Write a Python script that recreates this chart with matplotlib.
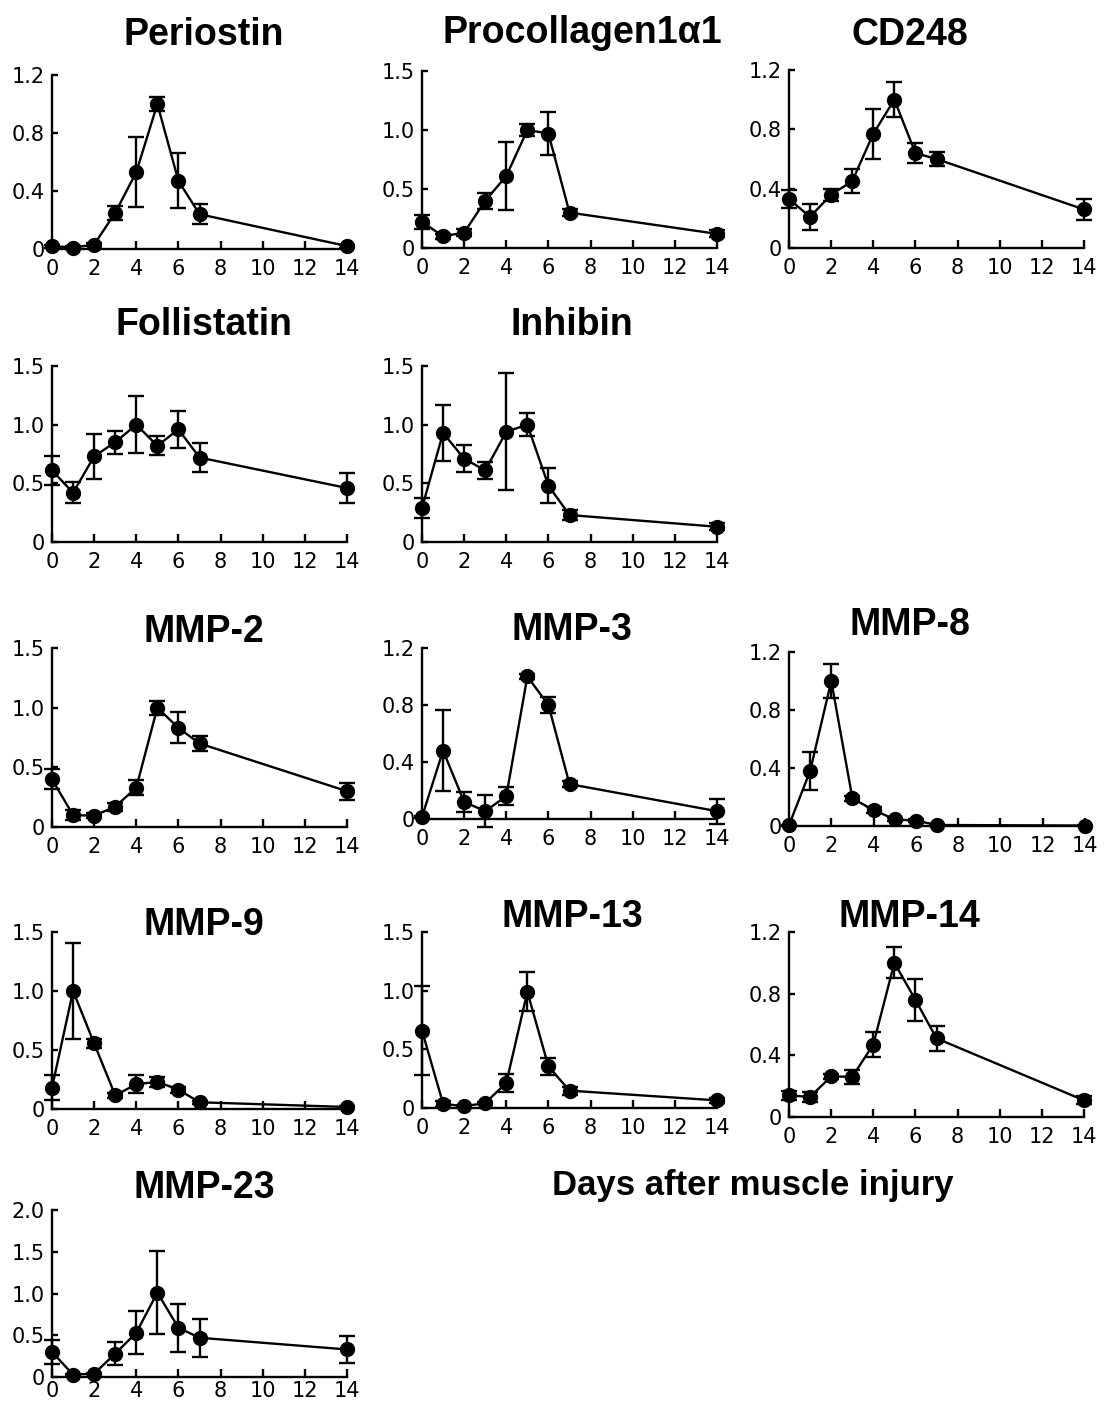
import matplotlib
matplotlib.use("Agg")
import matplotlib.pyplot as plt

W, H = 1104, 1401

days = [0, 1, 2, 3, 4, 5, 6, 7, 14]

names = ["Periostin", "Procollagen1\u03b11", "CD248", "Follistatin", "Inhibin",
         "MMP-2", "MMP-3", "MMP-8", "MMP-9", "MMP-13", "MMP-14", "MMP-23"]

periostin = [0.02, 0.01, 0.03, 0.25, 0.53, 1.00, 0.47, 0.24, 0.02]
periostin_err = [0.01, 0.01, 0.01, 0.05, 0.24, 0.05, 0.19, 0.07, 0.01]
procollagen = [0.22, 0.10, 0.13, 0.40, 0.61, 1.00, 0.97, 0.30, 0.12]
procollagen_err = [0.06, 0.02, 0.03, 0.07, 0.29, 0.05, 0.18, 0.03, 0.03]
cd248 = [0.33, 0.21, 0.36, 0.45, 0.77, 1.00, 0.64, 0.60, 0.26]
cd248_err = [0.06, 0.09, 0.04, 0.08, 0.17, 0.12, 0.065, 0.045, 0.07]
follistatin = [0.61, 0.42, 0.73, 0.85, 1.00, 0.82, 0.96, 0.72, 0.46]
follistatin_err = [0.125, 0.09, 0.19, 0.10, 0.245, 0.08, 0.16, 0.12, 0.125]
inhibin = [0.29, 0.93, 0.71, 0.61, 0.94, 1.00, 0.48, 0.23, 0.13]
inhibin_err = [0.085, 0.24, 0.115, 0.075, 0.50, 0.10, 0.15, 0.045, 0.03]
mmp2 = [0.40, 0.10, 0.095, 0.17, 0.33, 1.00, 0.83, 0.70, 0.30]
mmp2_err = [0.085, 0.045, 0.02, 0.035, 0.065, 0.06, 0.13, 0.06, 0.07]
mmp3 = [0.015, 0.48, 0.12, 0.055, 0.16, 1.00, 0.80, 0.245, 0.055]
mmp3_err = [0.005, 0.285, 0.072, 0.11, 0.065, 0.02, 0.055, 0.02, 0.088]
mmp8 = [0.005, 0.38, 1.00, 0.19, 0.11, 0.046, 0.037, 0.007, 0.003]
mmp8_err = [0.003, 0.13, 0.12, 0.02, 0.02, 0.01, 0.008, 0.004, 0.002]
mmp9 = [0.18, 1.00, 0.556, 0.116, 0.21, 0.23, 0.164, 0.057, 0.017]
mmp9_err = [0.105, 0.41, 0.035, 0.02, 0.075, 0.04, 0.025, 0.015, 0.005]
mmp13 = [0.66, 0.037, 0.014, 0.043, 0.213, 0.99, 0.355, 0.148, 0.065]
mmp13_err = [0.38, 0.025, 0.008, 0.01, 0.075, 0.165, 0.07, 0.035, 0.02]
mmp14 = [0.14, 0.13, 0.264, 0.26, 0.47, 1.00, 0.76, 0.51, 0.108]
mmp14_err = [0.03, 0.03, 0.015, 0.045, 0.08, 0.10, 0.135, 0.08, 0.025]
mmp23 = [0.30, 0.028, 0.04, 0.28, 0.53, 1.01, 0.59, 0.47, 0.33]
mmp23_err = [0.145, 0.01, 0.01, 0.135, 0.26, 0.50, 0.29, 0.23, 0.16]

values = [periostin, procollagen, cd248, follistatin, inhibin, mmp2, mmp3,
          mmp8, mmp9, mmp13, mmp14, mmp23]
errors = [periostin_err, procollagen_err, cd248_err, follistatin_err, inhibin_err,
          mmp2_err, mmp3_err, mmp8_err, mmp9_err, mmp13_err, mmp14_err, mmp23_err]

yticks_12 = [0, 0.4, 0.8, 1.2]
ylabels_12 = ["0", "0.4", "0.8", "1.2"]
yticks_15 = [0, 0.5, 1.0, 1.5]
ylabels_15 = ["0", "0.5", "1.0", "1.5"]
yticks_20 = [0, 0.5, 1.0, 1.5, 2.0]
ylabels_20 = ["0", "0.5", "1.0", "1.5", "2.0"]
ytick_sets = [(yticks_12, ylabels_12), (yticks_15, ylabels_15), (yticks_12, ylabels_12),
              (yticks_15, ylabels_15), (yticks_15, ylabels_15), (yticks_15, ylabels_15),
              (yticks_12, ylabels_12), (yticks_12, ylabels_12), (yticks_15, ylabels_15),
              (yticks_15, ylabels_15), (yticks_12, ylabels_12), (yticks_20, ylabels_20)]

# pixel boxes: left, right, top, bottom
boxes = [(52, 347, 75, 249), (422, 717, 71, 248), (789, 1084, 70, 248),
         (52, 347, 366, 542), (422, 717, 366, 542),
         (52, 347, 648, 827), (422, 717, 648, 819), (789, 1085, 652, 826),
         (52, 347, 932, 1109), (422, 717, 932, 1108), (789, 1084, 932, 1117),
         (52, 347, 1210, 1377)]
# title centre x and baseline y, pixels
title_pos = [(204, 45), (582, 43), (910, 45), (204, 335), (572, 335),
             (204, 642), (572, 640), (910, 635), (204, 935), (572, 927),
             (909, 927), (204, 1198)]

fig = plt.figure(figsize=(W / 100, H / 100), dpi=100)

for i in range(12):
    l, r, t, b = boxes[i]
    ax = fig.add_axes([l / W, 1 - b / H, (r - l) / W, (b - t) / H])
    ticks, labels = ytick_sets[i]
    ax.errorbar(days, values[i], yerr=errors[i], fmt="-o", color="black",
                ms=10, lw=1.7, elinewidth=1.7, capsize=5.5, capthick=1.7,
                clip_on=False, zorder=3)
    ax.set_xlim(0, 14)
    ax.set_ylim(0, ticks[-1])
    ax.set_xticks(range(0, 15, 2))
    ax.set_yticks(ticks)
    ax.set_yticklabels(labels)
    for s in ["top", "right"]:
        ax.spines[s].set_visible(False)
    for s in ["left", "bottom"]:
        ax.spines[s].set_linewidth(1.7)
    xpad = 3 if i == 11 else 7
    ax.tick_params(axis="x", direction="in", length=5.5, width=1.7, pad=xpad, labelsize=15)
    ax.tick_params(axis="y", direction="in", length=4.5, width=1.7, pad=5, labelsize=15)
    tx, ty = title_pos[i]
    fig.text(tx / W, 1 - ty / H, names[i], ha="center", va="baseline",
             fontsize=27, fontweight="bold", family=["Liberation Sans", "DejaVu Sans"])

fig.text(753 / W, 1 - 1185 / H, "Days after muscle injury", ha="center", va="center",
         fontsize=25, fontweight="bold", family=["Liberation Sans", "DejaVu Sans"])

fig.savefig("out.png", dpi=100)
